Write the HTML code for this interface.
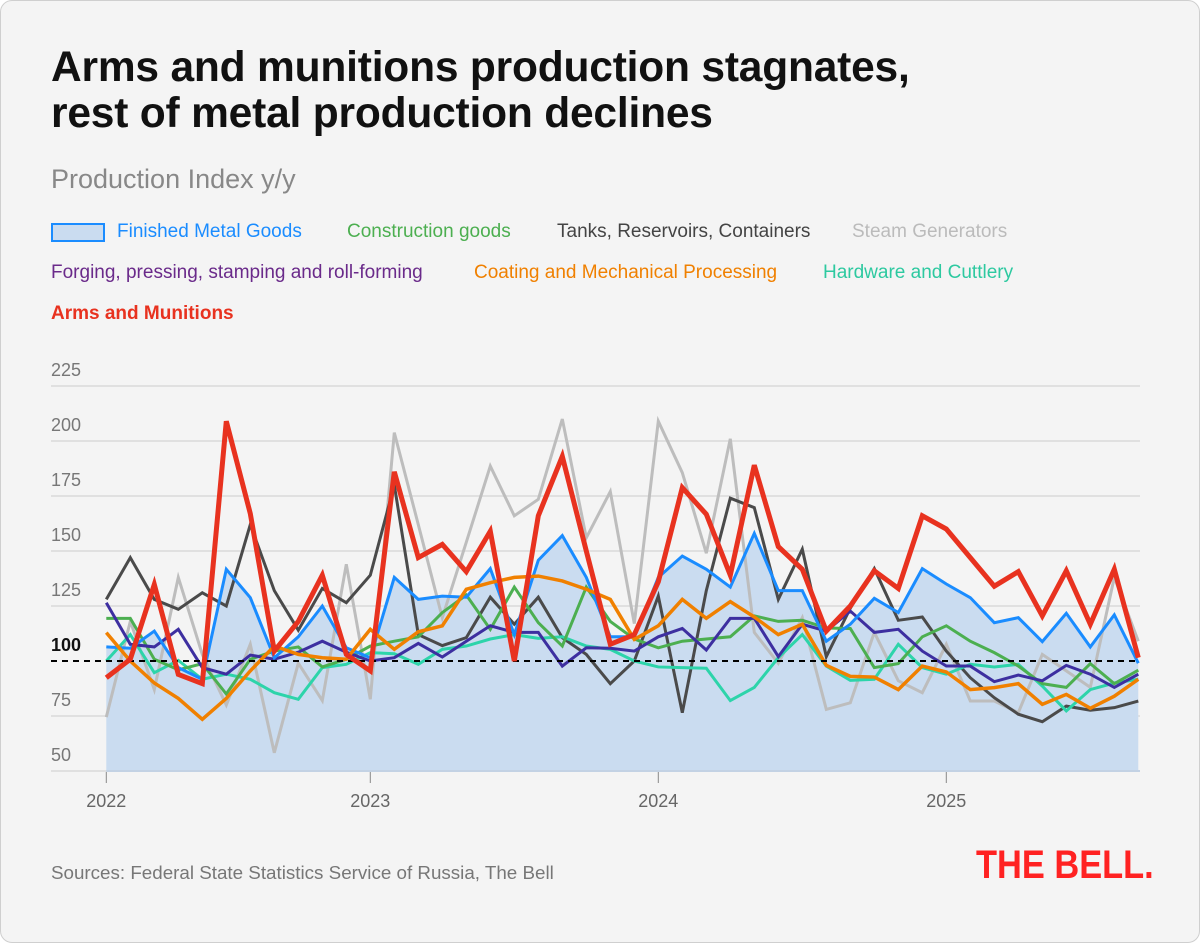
<!DOCTYPE html>
<html><head><meta charset="utf-8">
<style>
body{margin:0;background:#fff;font-family:"Liberation Sans",sans-serif;}
.card{position:absolute;left:0;top:0;width:1198px;height:941px;background:#f4f4f4;border:1px solid #cfcfcf;border-radius:12px;}
h1{position:absolute;left:50px;top:44px;margin:0;font-size:42.5px;line-height:46px;font-weight:bold;color:#111;letter-spacing:-0.2px}
.sub{position:absolute;left:50px;top:163px;font-size:27px;color:#888}
.lg{position:absolute;font-size:19px;white-space:nowrap}
.src{position:absolute;left:50px;top:861px;font-size:18.8px;color:#777}
.logo{position:absolute;left:975px;top:842px;font-size:40px;font-weight:900;color:#f22;letter-spacing:0px;transform:scaleX(0.86);transform-origin:left top}
</style></head><body>
<div class="card">
<h1>Arms and munitions production stagnates,<br>rest of metal production declines</h1>
<div class="sub">Production Index y/y</div>
<div>
<div class="lg" style="left:50px;top:222px;width:50px;height:15px;background:#cadcf0;border:2px solid #1a8cff"></div>
<div class="lg" style="left:116px;top:220px;color:#1a8cff">Finished Metal Goods</div>
<div class="lg" style="left:346px;top:220px;color:#4caf50">Construction goods</div>
<div class="lg" style="left:556px;top:220px;color:#444">Tanks, Reservoirs, Containers</div>
<div class="lg" style="left:851px;top:220px;color:#bbb">Steam Generators</div>
<div class="lg" style="left:50px;top:261px;color:#6a2a8a">Forging, pressing, stamping and roll-forming</div>
<div class="lg" style="left:473px;top:261px;color:#f08000">Coating and Mechanical Processing</div>
<div class="lg" style="left:822px;top:261px;color:#2dc9a0">Hardware and Cuttlery</div>
<div class="lg" style="left:50px;top:302px;color:#e8321f;font-weight:bold">Arms and Munitions</div>
</div>
<svg id="chart" width="1200" height="820" style="position:absolute;left:0;top:0"></svg>
<div class="src">Sources: Federal State Statistics Service of Russia, The Bell</div>
<div class="logo">THE BELL.</div>
</div>
<script>
const yTicks=[50,75,100,125,150,175,200,225];
const yearLabels=["2022","2023","2024","2025"];
const yearIdx=[0,11,23,35];
const finished=[106.4,105.8,113.6,97,91.7,141.7,128.8,101.5,111,125,106,101.5,138,128,129.5,129,142,112,145.8,157,138,111,111,138,147.7,141.7,133.6,158,132,132,109,116.7,128.5,122,142,135,128.8,117.4,119.7,108.8,121.7,106.4,121,99];
const construction=[119.4,119.4,100.8,96,98.8,85,100.8,104.5,106.4,97.3,100.8,106.8,109,111,122,130,114.4,133.6,117.4,106.8,133.6,118,110,106,109,110,111,120.5,118,118.5,115,114.8,97,98.8,111,116,109,103.8,97.7,89.7,88,98.8,89.7,95.8];
const tanks=[128,147,128,123.5,131,125,162,132,114,133,126.5,139,180,112,107,110.6,129,116.7,129,110.6,103,89.7,100,129.5,76.5,132,174,169.7,128,150.8,102,124,142,118.5,120,104.5,92.4,83.3,75.8,72.4,79.5,77.6,78.8,81.8];
const steam=[74.5,118,87,138,103,80,107.6,58.3,99,82,144,82.6,203.8,162,119.7,154,188.6,166,173.5,210,156,177,117,209,185.6,149,201,113,99,119.7,78,81,113,91,85.6,107.6,81.8,81.8,76.5,103,95.5,88,138,109];
const forging=[126.5,107.6,106.4,114.4,97,94,102.7,100.8,104,109,104,100,101.5,108,101.8,109,116,113,113,97.7,106,105.8,104.5,111,114.8,105,119.4,119.4,102,116.7,113.6,122.7,113,114.4,104.5,97.7,97.7,90.6,93.6,91,98,94,88,94];
const coating=[112.9,100,90,83,73.5,83,95.5,106.8,103,101.5,100.8,114.4,105.3,113.3,116,132.6,135.6,138,138.6,136.4,132.6,128,109.8,116,128,119.4,127,120,112,116.7,98,93,92.7,87,97.7,95,87,87.9,89.7,80.3,84.8,78.5,84,91.7];
const hardware=[100,112,94.7,100.3,91.7,94,91.7,85.6,82.6,97,98.5,103.8,103.3,98.5,105.3,106.8,110,112,110.3,111,106.8,105.3,100,97.3,97,96.7,82,88,101.5,112,97.7,91.2,91.7,107.6,97,94,98.5,97.3,98.5,88.6,77.3,87,90,91.7];
const arms=[92.4,100.8,134.8,93.9,89.7,209,167,104.5,118,139,103,95.5,186,147,153,140.6,159,100,166,193,150,107.6,112,136,178.8,166.7,139,189,152,141.7,113.6,125,141,133,166,160,147,134,140.6,120.5,141,116.7,141.7,101.5];

const svg=document.getElementById('chart');const NS='http://www.w3.org/2000/svg';
const X0=105.3,DX=24,XR=1139;
const x=i=>X0+i*DX;
const y=v=>660-(v-100)*2.2;
function mk(t,a){const e=document.createElementNS(NS,t);for(const k in a)e.setAttribute(k,a[k]);svg.appendChild(e);return e;}
yTicks.forEach(v=>{
  if(v!==100){const g=mk('line',{x1:50,x2:XR,y1:y(v),y2:y(v),stroke:'#e0e0e0','stroke-width':2});
  
  }
  const t=mk('text',{x:50,y:y(v)-10,'font-size':18,fill:v===100?'#111':'#777','font-weight':v===100?'bold':'normal','font-family':'Liberation Sans'});
  t.textContent=v;
  
  
});
let d='M'+x(0)+','+y(50);finished.forEach((v,i)=>d+='L'+x(i)+','+y(v));d+='L'+x(finished.length-1)+','+y(50)+'Z';
const area=mk('path',{d:d,fill:'#cadcf0'});


const base=mk('line',{x1:x(0),x2:XR,y1:y(50),y2:y(50),stroke:'#c3d2e4','stroke-width':2});


yearIdx.forEach((ix,k)=>{
  const tk=mk('line',{x1:x(ix),x2:x(ix),y1:y(50)+1,y2:y(50)+12,stroke:'#888','stroke-width':1});
  
  
  const t=mk('text',{x:x(ix),y:806,'font-size':18,fill:'#666','text-anchor':'middle','font-family':'Liberation Sans'});
  t.textContent=yearLabels[k];
  
  
});
function line(arr,col,w,name){
  const p=mk('polyline',{points:arr.map((v,i)=>x(i)+','+y(v)).join(' '),fill:'none',stroke:col,'stroke-width':w,'stroke-linejoin':'miter'});
  
  
}
line(steam,'#bdbdbd',3,'steam-generators-line');
line(tanks,'#4a4a4a',3,'tanks-line');
line(hardware,'#2dd4aa',3,'hardware-line');
line(construction,'#4caf50',3,'construction-goods-line');
line(forging,'#3d2fa0',3,'forging-line');
line(finished,'#1a8cff',3,'finished-metal-goods-line');
line(coating,'#f08000',3.5,'coating-line');
const ref=mk('line',{x1:50,x2:XR,y1:y(100),y2:y(100),stroke:'#000','stroke-width':2,'stroke-dasharray':'6,5'});


line(arms,'#e8321f',5,'arms-and-munitions-line');
</script>
</body></html>
